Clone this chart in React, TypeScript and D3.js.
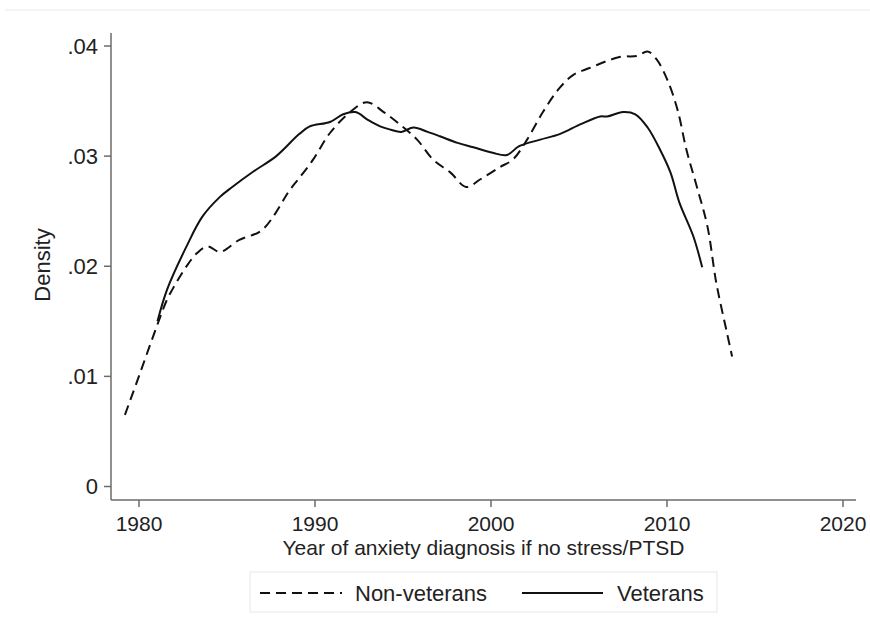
import React from "react";
import * as d3 from "d3";

const xTicks = [1980, 1990, 2000, 2010, 2020];
const yTicks = [0, 0.01, 0.02, 0.03, 0.04];
const yTickLabels = ["0", ".01", ".02", ".03", ".04"];

const vetYears = [1981.05, 1981.6, 1982.7, 1983.6, 1984.6, 1985.3, 1986.5, 1987.8, 1989.1, 1989.7, 1990.85, 1991.6, 1992.3, 1993.0, 1993.7, 1994.3, 1994.9, 1995.6, 1996.4, 1997.1, 1998.1, 1999.0, 2000.1, 2000.9, 2001.6, 2002.8, 2003.9, 2005.1, 2006.2, 2006.6, 2007.5, 2008.2, 2008.9, 2009.6, 2010.2, 2010.7, 2011.5, 2012.0];
const vetDensity = [0.0150, 0.0179, 0.0218, 0.0245, 0.0263, 0.0272, 0.0286, 0.0300, 0.0320, 0.0327, 0.0331, 0.0338, 0.0340, 0.0333, 0.0327, 0.0324, 0.0322, 0.0326, 0.0322, 0.0318, 0.0312, 0.0308, 0.0303, 0.0301, 0.0309, 0.0315, 0.0320, 0.0329, 0.0336, 0.0336, 0.0340, 0.0338, 0.0326, 0.0306, 0.0285, 0.0258, 0.0227, 0.0199];

const nonYears = [1979.2, 1980.06, 1981.0, 1981.6, 1981.9, 1982.7, 1983.3, 1983.9, 1984.6, 1985.7, 1987.0, 1988.6, 1989.1, 1989.9, 1990.85, 1992.0, 1992.95, 1993.9, 1994.8, 1995.8, 1996.7, 1997.7, 1998.6, 1999.4, 2000.5, 2001.25, 2002.05, 2002.95, 2003.9, 2004.7, 2005.6, 2007.3, 2008.3, 2008.9, 2009.4, 2010.0, 2010.6, 2011.1, 2011.7, 2012.3, 2012.8, 2013.4, 2013.7];
const nonDensity = [0.0065, 0.0103, 0.0145, 0.0170, 0.0179, 0.0200, 0.0212, 0.0218, 0.0213, 0.0224, 0.0233, 0.0270, 0.0280, 0.0297, 0.0321, 0.0340, 0.0349, 0.0340, 0.0329, 0.0315, 0.0297, 0.0285, 0.0272, 0.0279, 0.0290, 0.0297, 0.0315, 0.0340, 0.0362, 0.0374, 0.0380, 0.0390, 0.0391, 0.0395, 0.0388, 0.0370, 0.0342, 0.0306, 0.0272, 0.0236, 0.0185, 0.0140, 0.0118];

const W = 870;
const H = 633;
const FONT = "Liberation Sans, Arial, sans-serif";
const FS = 22;
const FS_X = 21;

export default function App() {
  const x = d3.scaleLinear().domain([1980, 2020]).range([139, 843]);
  const y = d3.scaleLinear().domain([0, 0.04]).range([486.5, 46]);
  const axisLeft = 111;
  const axisBottom = 500;
  const axisRight = 856;
  const axisTop = 33;

  const line = d3
    .line<[number, number]>()
    .x((d) => x(d[0]))
    .y((d) => y(d[1]))
    .curve(d3.curveCatmullRom.alpha(0.5));

  const vet = line(vetYears.map((v, i) => [v, vetDensity[i]] as [number, number])) || "";
  const non = line(nonYears.map((v, i) => [v, nonDensity[i]] as [number, number])) || "";

  const axisColor = "#6b6b6b";
  const textColor = "#222";

  return (
    <svg
      width={W}
      height={H}
      style={{ position: "absolute", left: 0, top: 0, background: "#fff" }}
      fontFamily={FONT}
    >
      <line x1={5} x2={W} y1={10} y2={10} stroke="#f0f0f0" strokeWidth={1.5} />
      {/* axes */}
      <line x1={axisLeft} x2={axisLeft} y1={axisTop} y2={axisBottom} stroke={axisColor} strokeWidth={1.5} />
      <line x1={axisLeft} x2={axisRight} y1={axisBottom} y2={axisBottom} stroke={axisColor} strokeWidth={1.5} />
      {yTicks.map((t, i) => (
        <g key={"y" + i}>
          <line x1={axisLeft - 7} x2={axisLeft} y1={y(t)} y2={y(t)} stroke={axisColor} strokeWidth={1.5} />
          <text x={axisLeft - 13} y={y(t)} dy="0.35em" textAnchor="end" fontSize={FS} fill={textColor}>
            {yTickLabels[i]}
          </text>
        </g>
      ))}
      {xTicks.map((t) => (
        <g key={"x" + t}>
          <line x1={x(t)} x2={x(t)} y1={axisBottom} y2={axisBottom + 7} stroke={axisColor} strokeWidth={1.5} />
          <text x={x(t)} y={531} textAnchor="middle" fontSize={FS_X} fill={textColor}>
            {t}
          </text>
        </g>
      ))}
      <text x={(axisLeft + axisRight) / 2} y={554.5} textAnchor="middle" fontSize={FS_X} fill={textColor}>
        Year of anxiety diagnosis if no stress/PTSD
      </text>
      <text
        transform={`translate(42,265) rotate(-90)`}
        dy="0.35em"
        textAnchor="middle"
        fontSize={FS}
        fill={textColor}
      >
        Density
      </text>
      {/* curves */}
      <path d={non} fill="none" stroke="#111" strokeWidth={2} strokeDasharray="10,6" />
      <path d={vet} fill="none" stroke="#111" strokeWidth={2} />
      {/* legend */}
      <rect x={250} y={572} width={467} height={40} fill="#fff" stroke="#ececec" strokeWidth={1.2} />
      <line x1={260} x2={342} y1={593} y2={593} stroke="#111" strokeWidth={2} strokeDasharray="10,6" />
      <text x={355} y={593} dy="0.35em" fontSize={FS} fill={textColor}>
        Non-veterans
      </text>
      <line x1={522} x2={603} y1={593} y2={593} stroke="#111" strokeWidth={2} />
      <text x={617} y={593} dy="0.35em" fontSize={FS} fill={textColor}>
        Veterans
      </text>
    </svg>
  );
}
